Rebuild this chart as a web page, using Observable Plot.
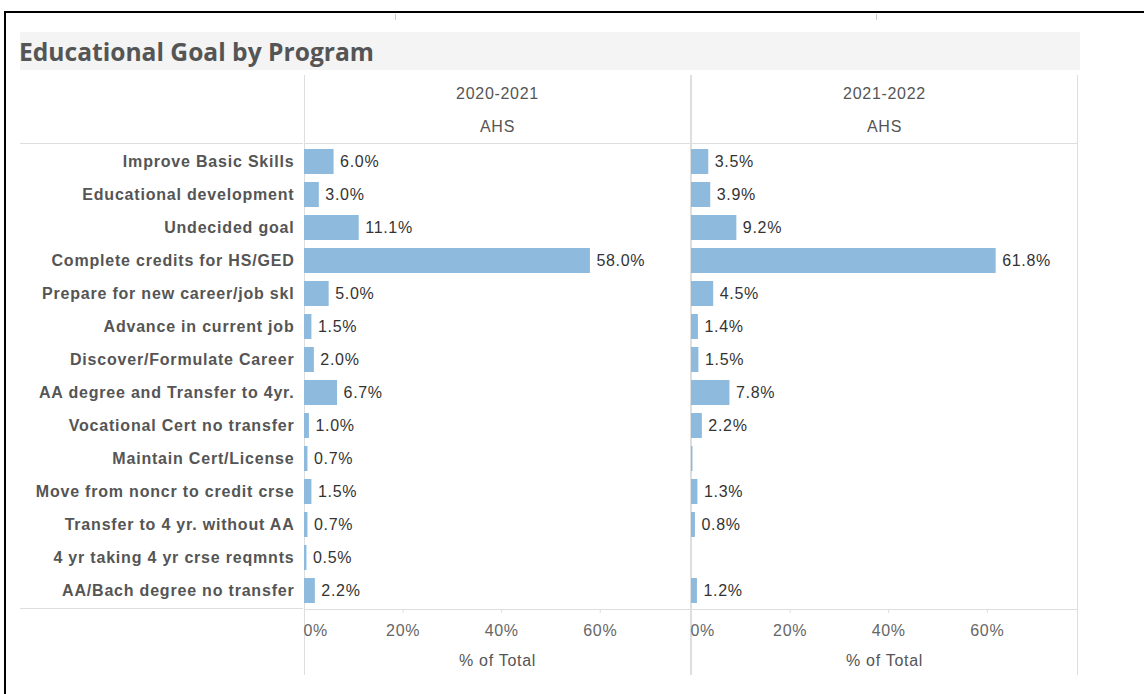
<!DOCTYPE html>
<html>
<head>
<meta charset="utf-8">
<script src="https://cdn.jsdelivr.net/npm/d3@7"></script>
<script src="https://cdn.jsdelivr.net/npm/@observablehq/plot@0.6"></script>
<style>
  body { margin: 0; background: #fff; font-family: "Liberation Sans", Arial, sans-serif; }
  #wrap { position: relative; width: 1144px; height: 694px; overflow: hidden; }
  #border { position: absolute; left: 4px; top: 11px; width: 1200px; height: 800px; border-left: 2px solid #000; border-top: 2px solid #000; }
  #title { position: absolute; left: 20px; top: 32px; width: 1060px; height: 38px; background: #f4f4f4;
           font-family: "Open Sans", sans-serif; font-weight: 700; font-size: 24.6px; color: #555; line-height: 38px; white-space: nowrap; }
  #title span { position: relative; left: -1px; top: 1px; }
  .hl { position: absolute; left: 20px; width: 283px; height: 1px; background: #dedede; }
  .tk { position: absolute; top: 14px; width: 1px; height: 6px; background: #ccc; }
  #chart { position: absolute; left: 0; top: 75px; }
  #chart svg text { letter-spacing: 0.7px; }
  #chart svg g[aria-label="y-axis tick label"] text { letter-spacing: 0.8px; }
</style>
</head>
<body>
<div id="wrap">
  <div id="border"></div>
  <div class="tk" style="left:395px"></div>
  <div class="tk" style="left:876px"></div>
  <div id="title"><span>Educational Goal by Program</span></div>
  <div class="hl" style="top:143px"></div>
  <div class="hl" style="top:608px"></div>
  <div id="chart"></div>
</div>
<script>
const goals = [
  "Improve Basic Skills",
  "Educational development",
  "Undecided goal",
  "Complete credits for HS/GED",
  "Prepare for new career/job skl",
  "Advance in current job",
  "Discover/Formulate Career",
  "AA degree and Transfer to 4yr.",
  "Vocational Cert no transfer",
  "Maintain Cert/License",
  "Move from noncr to credit crse",
  "Transfer to 4 yr. without AA",
  "4 yr taking 4 yr crse reqmnts",
  "AA/Bach degree no transfer"
];
const years = ["2020-2021", "2021-2022"];
const program = "AHS";
const values2020 = [6.0, 3.0, 11.1, 58.0, 5.0, 1.5, 2.0, 6.7, 1.0, 0.7, 1.5, 0.7, 0.5, 2.2];
const values2021 = [3.5, 3.9, 9.2, 61.8, 4.5, 1.4, 1.5, 7.8, 2.2, 0.3, 1.3, 0.8, null, 1.2];
// labels shown in the reference (null = no label drawn)
const labels2021 = ["3.5%", "3.9%", "9.2%", "61.8%", "4.5%", "1.4%", "1.5%", "7.8%", "2.2%", null, "1.3%", "0.8%", null, "1.2%"];
const xTicks = [0, 20, 40, 60];
const xMax = 78.3;

const data = [];
goals.forEach((g, i) => {
  data.push({year: years[0], goal: g, value: values2020[i], label: values2020[i].toFixed(1) + "%"});
  if (values2021[i] != null) data.push({year: years[1], goal: g, value: values2021[i], label: labels2021[i]});
});

const lineColor = "#dedede";
const chart = Plot.plot({
  width: 1144,
  height: 600,
  marginLeft: 303,
  marginRight: 67,
  marginTop: 68,
  marginBottom: 66,
  style: {fontFamily: "'Liberation Sans', Arial, sans-serif", background: "transparent"},
  fx: {domain: years, paddingInner: 0.003, paddingOuter: 0, axis: null},
  x: {domain: [0, xMax], axis: null},
  y: {domain: goals, paddingInner: 0.25, paddingOuter: 0.125, axis: null},
  marks: [
    Plot.frame({stroke: lineColor}),
    Plot.ruleX([0, xMax], {stroke: lineColor, insetTop: -68, insetBottom: -66}),
    Plot.barX(data, {fx: "year", y: "goal", x: "value", fill: "#8dbadd"}),
    Plot.text(data.filter(d => d.label), {fx: "year", y: "goal", x: "value", text: "label", dx: 6,
      textAnchor: "start", fontSize: 16, fill: "#333"}),
    Plot.axisY({tickSize: 0, tickPadding: 10, fontSize: 16, fontWeight: "bold", fill: "#555", label: null}),
    Plot.axisX({ticks: xTicks.filter(t => t > 0), tickFormat: d => d + "%", tickSize: 4, stroke: lineColor,
      tickPadding: 11, fontSize: 16, fill: "#666", label: null}),
    Plot.axisX({ticks: [0], tickFormat: d => d + "%", tickSize: 0, textAnchor: "start", dx: -1,
      tickPadding: 15, fontSize: 16, fill: "#666", label: null}),
    Plot.text(years, {fx: d => d, text: d => d, frameAnchor: "top", lineAnchor: "middle", dy: -50, fontSize: 16, fill: "#555"}),
    Plot.text(years, {fx: d => d, text: () => program, frameAnchor: "top", lineAnchor: "middle", dy: -17, fontSize: 16, fill: "#555"}),
    Plot.text(years, {fx: d => d, text: () => "% of Total", frameAnchor: "bottom", lineAnchor: "middle", dy: 51, fontSize: 16, fill: "#555"})
  ]
});
document.getElementById("chart").appendChild(chart);
</script>
</body>
</html>
